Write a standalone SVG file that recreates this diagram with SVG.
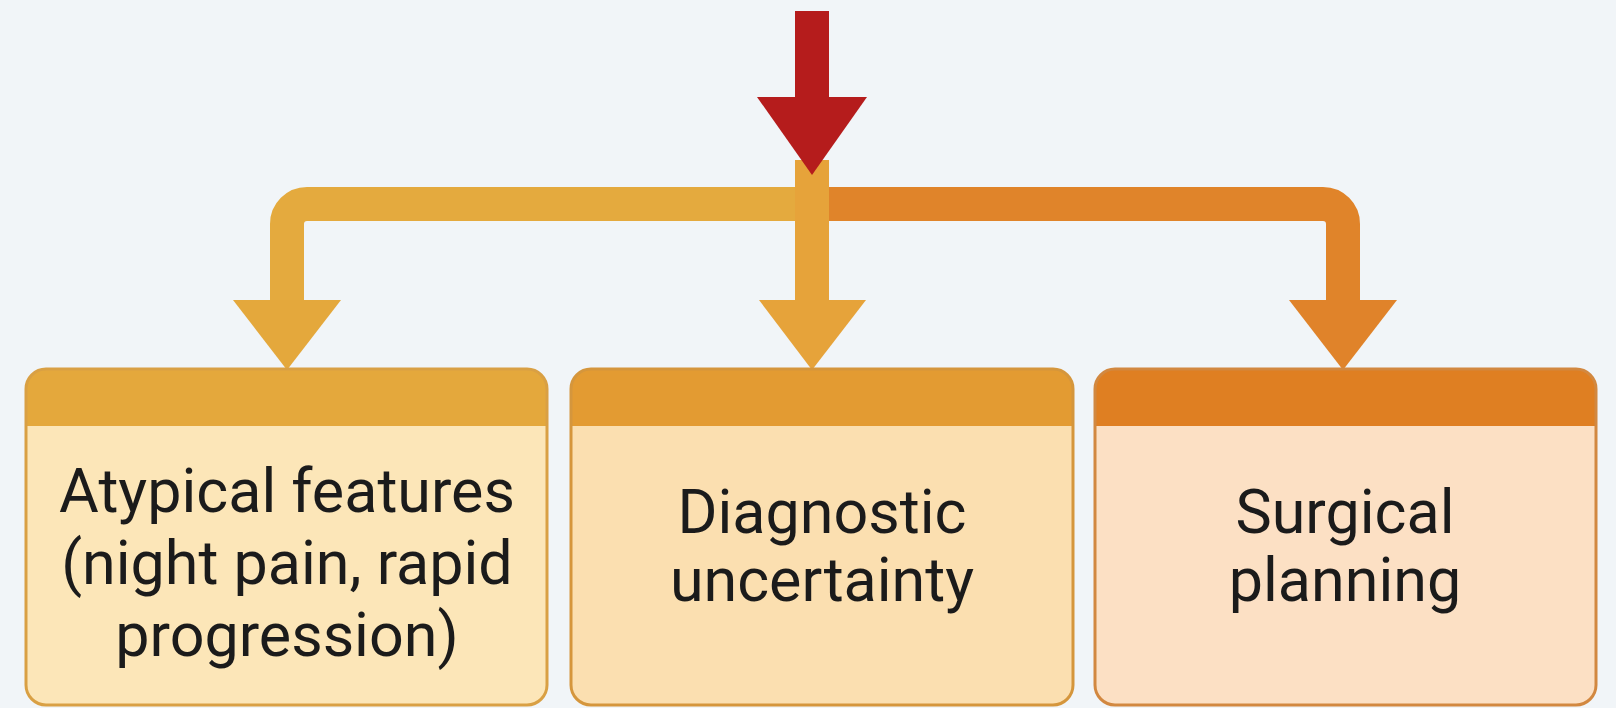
<svg xmlns="http://www.w3.org/2000/svg" width="1616" height="708" viewBox="0 0 1616 708">
<style>
.lbl{font-family:Roboto,"Liberation Sans",sans-serif;font-size:61px;fill:#1b1b1b;text-anchor:middle}
.gold{fill:#e4a83c}
.orng{fill:#e0832a}
.mid{fill:#e6a33a}
</style>
<rect width="1616" height="708" fill="#f1f5f8"/>
<g id="connectors">
  <path d="M812 204 H307 A20 20 0 0 0 287 224 V304" fill="none" stroke="#e4aa3e" stroke-width="34"/>
  <polygon points="233,300 341,300 287,370" class="gold"/>
  <path d="M812 204 H1323 A20 20 0 0 1 1343 224 V304" fill="none" stroke="#e0842a" stroke-width="34"/>
  <polygon points="1289,300 1397,300 1343,370" class="orng"/>
  <rect x="795" y="160" width="34" height="144" class="mid"/>
  <polygon points="759,300 866,300 812,370" class="mid"/>
  <rect x="795" y="11" width="34" height="90" fill="#b51c1c"/>
  <polygon points="757,97 867,97 812,175" fill="#b51c1c"/>
</g>
<g id="node1">
  <rect x="26" y="369" width="521" height="336" rx="20" fill="#fce6b8"/>
  <path d="M26 426 V389 A20 20 0 0 1 46 369 H527 A20 20 0 0 1 547 389 V426 Z" fill="#e4a83c"/>
  <rect x="26" y="369" width="521" height="336" rx="20" fill="none" stroke="#d9a044" stroke-width="3"/>
  <text class="lbl" x="287" y="512">Atypical features</text>
  <text class="lbl" x="287" y="584">(night pain, rapid</text>
  <text class="lbl" x="287" y="656">progression)</text>
</g>
<g id="node2">
  <rect x="571" y="369" width="502" height="336" rx="20" fill="#fbdfb0"/>
  <path d="M571 426 V389 A20 20 0 0 1 591 369 H1053 A20 20 0 0 1 1073 389 V426 Z" fill="#e39b32"/>
  <rect x="571" y="369" width="502" height="336" rx="20" fill="none" stroke="#d5963c" stroke-width="3"/>
  <text class="lbl" x="822" y="533">Diagnostic</text>
  <text class="lbl" x="822" y="601">uncertainty</text>
</g>
<g id="node3">
  <rect x="1095" y="369" width="501" height="336" rx="20" fill="#fce0c4"/>
  <path d="M1095 426 V389 A20 20 0 0 1 1115 369 H1576 A20 20 0 0 1 1596 389 V426 Z" fill="#df7f22"/>
  <rect x="1095" y="369" width="501" height="336" rx="20" fill="none" stroke="#d28840" stroke-width="3"/>
  <text class="lbl" x="1345" y="533">Surgical</text>
  <text class="lbl" x="1345" y="601">planning</text>
</g>
</svg>
